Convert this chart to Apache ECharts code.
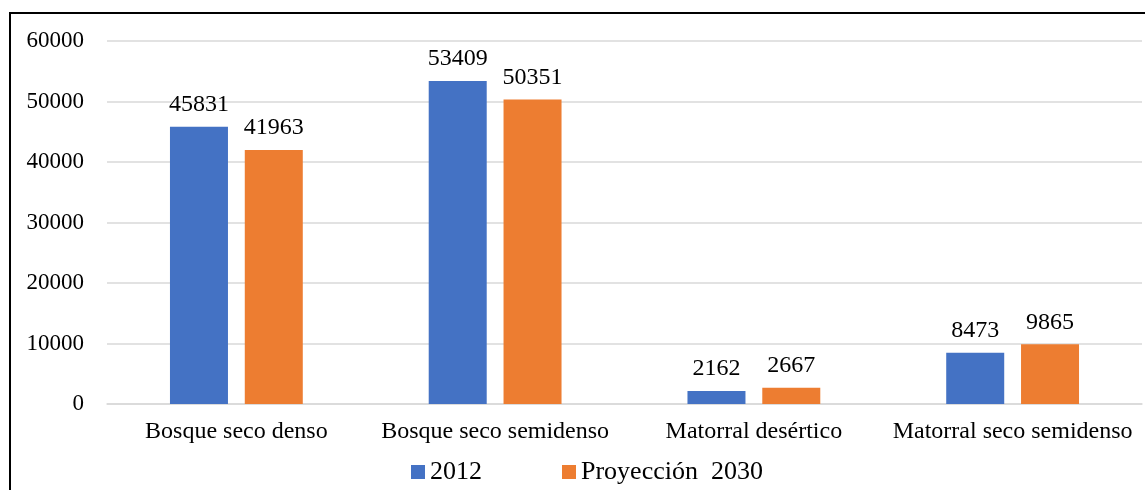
<!DOCTYPE html>
<html>
<head>
<meta charset="utf-8">
<script src="https://cdn.jsdelivr.net/npm/echarts@6/dist/echarts.min.js"></script>
<style>
  html, body { margin: 0; padding: 0; background: #fff; }
  #chart { width: 1145px; height: 490px; }
</style>
</head>
<body>
<div id="chart"></div>
<script>
const categories = ['Bosque seco denso', 'Bosque seco semidenso', 'Matorral desértico', 'Matorral seco semidenso'];
const values2012 = [45831, 53409, 2162, 8473];
const values2030 = [41963, 50351, 2667, 9865];
const seriesNames = ['2012', 'Proyección  2030'];
const yTicks = { min: 0, max: 60000, interval: 10000 };

const FONT = '"Liberation Serif", "Times New Roman", serif';
const chart = echarts.init(document.getElementById('chart'), null, { renderer: 'canvas' });

const labelStyle = {
  show: true,
  position: 'top',
  distance: 10,
  color: '#000',
  fontFamily: FONT,
  fontSize: 24
};

chart.setOption({
  animation: false,
  backgroundColor: '#fff',
  textStyle: { fontFamily: FONT },
  graphic: [{
    type: 'polyline',
    shape: { points: [[10, 500], [10, 13], [1150, 13]] },
    style: { stroke: '#000', lineWidth: 2, fill: null }
  }],
  grid: { left: 107, right: 3, top: 41, bottom: 86, containLabel: false },
  legend: {
    data: seriesNames,
    top: 459,
    left: 406,
    padding: [0, 5],
    itemWidth: 14,
    itemHeight: 14,
    itemGap: 80,
    icon: 'rect',
    textStyle: { fontFamily: FONT, fontSize: 26, color: '#000' }
  },
  xAxis: {
    type: 'category',
    data: categories,
    axisLine: { show: true, lineStyle: { color: '#d9d9d9', width: 1.5 } },
    axisTick: { show: false },
    axisLabel: { color: '#000', fontFamily: FONT, fontSize: 24, margin: 16, interval: 0 }
  },
  yAxis: {
    type: 'value',
    min: yTicks.min,
    max: yTicks.max,
    interval: yTicks.interval,
    axisLine: { show: false },
    axisTick: { show: false },
    splitLine: { lineStyle: { color: '#d9d9d9', width: 1.5 } },
    axisLabel: { color: '#000', fontFamily: FONT, fontSize: 23, margin: 23, formatter: v => String(v) }
  },
  series: [
    {
      name: seriesNames[0],
      type: 'bar',
      data: values2012,
      barWidth: 58,
      barGap: '29%',
      itemStyle: { color: '#4472C4' },
      label: labelStyle
    },
    {
      name: seriesNames[1],
      type: 'bar',
      data: values2030,
      barWidth: 58,
      barGap: '29%',
      itemStyle: { color: '#ED7D31' },
      label: labelStyle
    }
  ]
});
</script>
</body>
</html>
